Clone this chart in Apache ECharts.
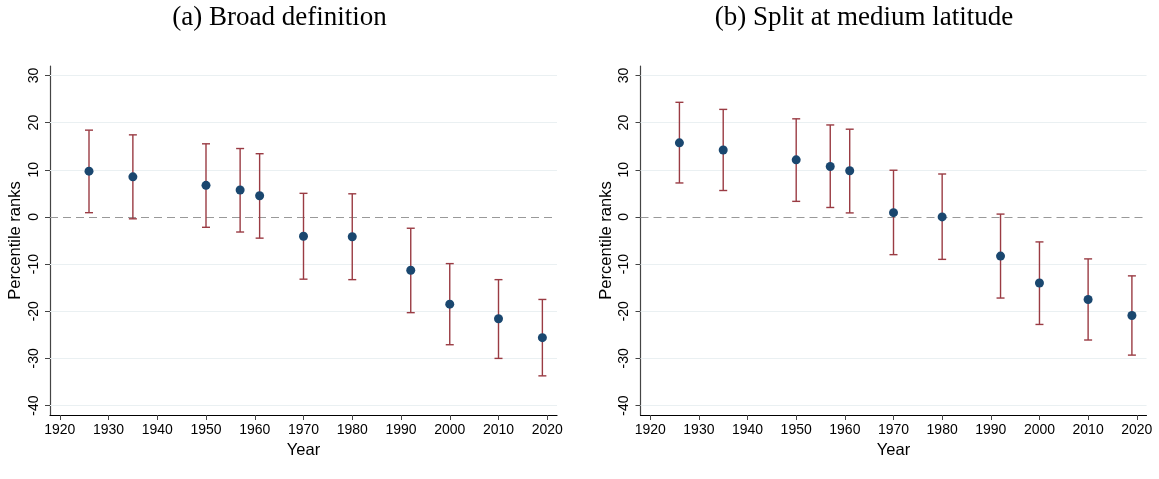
<!DOCTYPE html>
<html>
<head>
<meta charset="utf-8">
<script src="https://cdn.jsdelivr.net/npm/echarts@6/dist/echarts.min.js"></script>
<style>
html,body{margin:0;padding:0;background:#fff;}
#chart{width:1159px;height:479px;}
</style>
</head>
<body>
<div id="chart"></div>
<script>
// ---- Data ----
const years = [1926, 1935, 1950, 1957, 1961, 1970, 1980, 1992, 2000, 2010, 2019];

const broadMean = [9.7, 8.5, 6.7, 5.7, 4.5, -4.1, -4.2, -11.3, -18.5, -21.6, -25.6];
const broadLow  = [0.9, -0.4, -2.2, -3.2, -4.5, -13.2, -13.3, -20.3, -27.1, -30.0, -33.7];
const broadHigh = [18.4, 17.4, 15.5, 14.5, 13.4, 5.0, 4.9, -2.4, -9.9, -13.3, -17.5];

const splitMean = [15.7, 14.2, 12.1, 10.7, 9.8, 0.9, 0.0, -8.3, -14.0, -17.5, -20.9];
const splitLow  = [7.2, 5.6, 3.3, 2.0, 0.85, -8.0, -9.0, -17.2, -22.8, -26.1, -29.3];
const splitHigh = [24.3, 22.8, 20.8, 19.5, 18.6, 9.9, 9.1, 0.6, -5.3, -8.9, -12.5];

const xTicks = [1920, 1930, 1940, 1950, 1960, 1970, 1980, 1990, 2000, 2010, 2020];
const yTicks = [-40, -30, -20, -10, 0, 10, 20, 30];
const gridLineValues = [-40, -30, -20, -10, 10, 20, 30];
const titles = ['(a) Broad definition', '(b) Split at medium latitude'];
const xTitle = 'Year';
const yTitle = 'Percentile ranks';

// ---- Styling ----
const NAVY = '#1a476f';
const MAROON = '#9a3b43';
const GRIDC = '#eaf0f2';
const AXISFONT = 'Liberation Sans, Arial, sans-serif';
const TITLEFONT = '27px "Liberation Serif", "Times New Roman", serif';

const chart = echarts.init(document.getElementById('chart'), null, {renderer: 'canvas'});

function xAxisFor(i) {
  return {
    type: 'value', gridIndex: i, min: 1918, max: 2022,
    name: xTitle, nameLocation: 'middle', nameGap: 22,
    nameTextStyle: {color: '#000', fontSize: 16.5, fontFamily: AXISFONT},
    axisLine: {show: true, onZero: false, lineStyle: {color: '#000', width: 1.2}},
    axisTick: {show: true, length: 5, customValues: xTicks, lineStyle: {color: '#444', width: 1}},
    axisLabel: {customValues: xTicks, formatter: v => String(v), color: '#000', fontSize: 14, fontFamily: AXISFONT, margin: 8},
    splitLine: {show: false}
  };
}
function yAxisFor(i) {
  return {
    type: 'value', gridIndex: i, min: -42, max: 32,
    name: yTitle, nameLocation: 'middle', nameGap: 26,
    nameTextStyle: {color: '#000', fontSize: 16.5, fontFamily: AXISFONT},
    axisLine: {show: true, onZero: false, lineStyle: {color: '#444', width: 1.2}},
    axisTick: {show: true, length: 5, customValues: yTicks, lineStyle: {color: '#444', width: 1}},
    axisLabel: {customValues: yTicks, formatter: v => String(v), rotate: 90, color: '#000', fontSize: 14, fontFamily: AXISFONT, margin: 9},
    splitLine: {show: false}
  };
}

function refLineSeries(i) {
  return {
    type: 'line', xAxisIndex: i, yAxisIndex: i, z: 1, data: [],
    silent: true,
    markLine: {
      silent: true, symbol: 'none', animation: false, z: 1,
      label: {show: false},
      data: gridLineValues.map(v => ({yAxis: v, lineStyle: {color: GRIDC, width: 1.2, type: 'solid'}}))
        .concat([{yAxis: 0, lineStyle: {color: '#999', width: 1.2, type: [8, 5]}}])
    }
  };
}

function errSeries(i, low, high) {
  const data = years.map((y, k) => [y, low[k], high[k]]);
  return {
    type: 'custom', xAxisIndex: i, yAxisIndex: i, z: 3,
    data: data,
    renderItem: function (params, api) {
      const x = api.value(0);
      const p1 = api.coord([x, api.value(1)]);
      const p2 = api.coord([x, api.value(2)]);
      const hw = 4;
      const st = {stroke: MAROON, lineWidth: 1.4};
      return {
        type: 'group',
        children: [
          {type: 'line', shape: {x1: p1[0], y1: p1[1], x2: p2[0], y2: p2[1]}, style: st},
          {type: 'line', shape: {x1: p1[0] - hw, y1: p1[1], x2: p1[0] + hw, y2: p1[1]}, style: st},
          {type: 'line', shape: {x1: p2[0] - hw, y1: p2[1], x2: p2[0] + hw, y2: p2[1]}, style: st}
        ]
      };
    },
    encode: {x: 0, y: [1, 2]},
    silent: true
  };
}

function pointSeries(i, mean) {
  return {
    type: 'scatter', xAxisIndex: i, yAxisIndex: i, z: 4,
    symbol: 'circle', symbolSize: 9,
    itemStyle: {color: NAVY, opacity: 1},
    data: years.map((y, k) => [y, mean[k]]),
    silent: true
  };
}

const option = {
  animation: false,
  backgroundColor: '#fff',
  grid: [
    {left: 50, top: 66, width: 507, height: 349, containLabel: false},
    {left: 640.5, top: 66, width: 506, height: 349, containLabel: false}
  ],
  xAxis: [xAxisFor(0), xAxisFor(1)],
  yAxis: [yAxisFor(0), yAxisFor(1)],
  graphic: [
    {type: 'text', x: 279.5, y: 18, style: {text: titles[0], fill: '#000', font: TITLEFONT, textAlign: 'center', textVerticalAlign: 'middle'}},
    {type: 'text', x: 864, y: 18, style: {text: titles[1], fill: '#000', font: TITLEFONT, textAlign: 'center', textVerticalAlign: 'middle'}}
  ],
  series: [
    refLineSeries(0),
    errSeries(0, broadLow, broadHigh),
    pointSeries(0, broadMean),
    refLineSeries(1),
    errSeries(1, splitLow, splitHigh),
    pointSeries(1, splitMean)
  ]
};
chart.setOption(option);
</script>
</body>
</html>
